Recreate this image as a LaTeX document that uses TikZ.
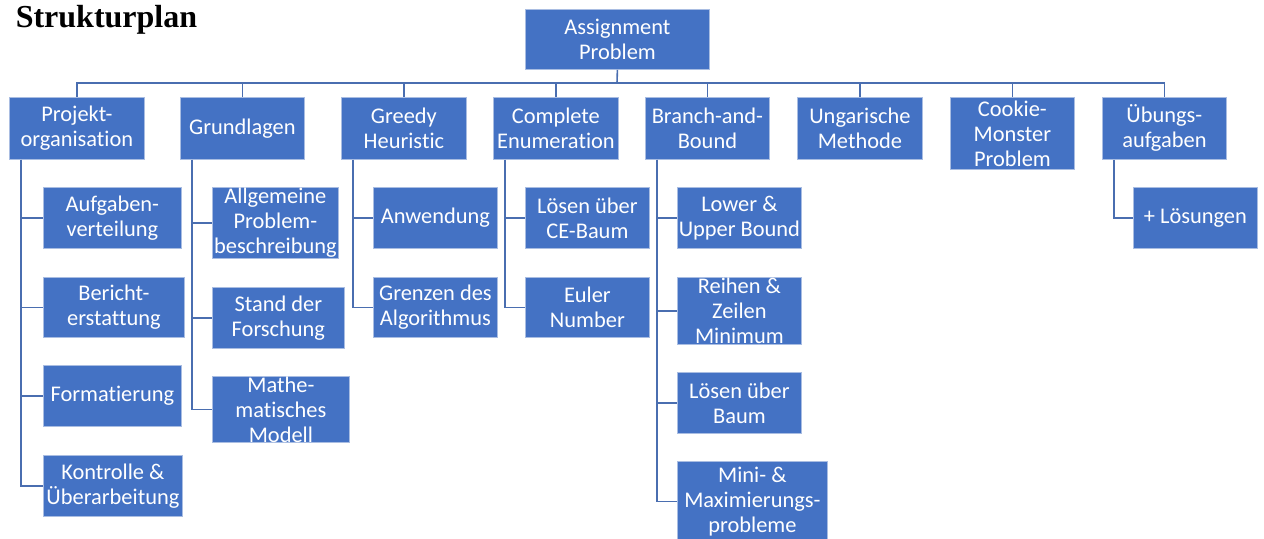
\documentclass[tikz,border=0pt]{standalone}
\usepackage{fontspec}
\setmainfont{Liberation Serif}
\newfontfamily\boxfont[Ligatures=NoCommon]{Carlito}
\usepackage{xcolor}
\definecolor{boxblue}{HTML}{4472C4}
\definecolor{boxedge}{HTML}{A9BDE2}
\definecolor{linkblue}{HTML}{4A6EB0}

\begin{document}
\begin{tikzpicture}[x=0.5pt,y=-0.5pt,line width=0.8pt,
    box/.style={rectangle,fill=boxblue,draw=boxedge,line width=0.4pt,anchor=north west,inner sep=0pt,align=center,text=white,font=\boxfont\fontsize{11.2}{12.5}\selectfont},
    link/.style={draw=linkblue,line width=0.8pt}]

                \useasboundingbox (0,0) rectangle (1264,538);

                \node[anchor=base west,inner sep=0pt,font=\bfseries\fontsize{16}{19}\selectfont] (title) at (15,27) {Strukturplan};

                \node[box, minimum width=92pt, minimum height=30pt] (root) at (525,9) {Assignment\\Problem};

                % erste Ebene
                \node[box, minimum width=67.5pt, minimum height=31pt] (proj) at (9,97) {Projekt-\\organisation};
                \node[box, minimum width=62pt, minimum height=31pt] (grund) at (180,97) {Grundlagen};
                \node[box, minimum width=62.5pt, minimum height=31pt] (greedy) at (341,97) {Greedy\\Heuristic};
                \node[box, minimum width=62.5pt, minimum height=31pt] (ce) at (493,97) {Complete\\Enumeration};
                \node[box, minimum width=62pt, minimum height=31pt] (bb) at (645,97) {Branch-and-\\Bound};
                \node[box, minimum width=62.5pt, minimum height=31pt] (ung) at (797,97) {Ungarische\\Methode};
                \node[box, minimum width=62pt, minimum height=36pt] (cookie) at (950,97) {Cookie-\\Monster\\Problem};
                \node[box, minimum width=62pt, minimum height=31pt] (ueb) at (1102,97) {Übungs-\\aufgaben};

                % zweite Ebene
                \node[box, minimum width=69pt, minimum height=30.5pt] (aufg) at (43,187) {Aufgaben-\\verteilung};
                \node[box, minimum width=70.5pt, minimum height=30pt] (bericht) at (43,277) {Bericht-\\erstattung};
                \node[box, minimum width=69pt, minimum height=30.5pt] (format) at (43,365) {Formatierung};
                \node[box, minimum width=69.5pt, minimum height=30.5pt] (kontr) at (43,455) {Kontrolle \&\\Überarbeitung};

                \node[box, minimum width=63pt, minimum height=35.5pt] (allg) at (212,187) {Allgemeine\\Problem-\\beschreibung};
                \node[box, minimum width=66pt, minimum height=30.5pt] (stand) at (212,287) {Stand der\\Forschung};
                \node[box, minimum width=68.5pt, minimum height=33pt] (mathe) at (212,376) {Mathe-\\matisches\\Modell};

                \node[box, minimum width=62pt, minimum height=30.5pt] (anw) at (373,187) {Anwendung};
                \node[box, minimum width=62pt, minimum height=30pt] (grenz) at (373,277) {Grenzen des\\Algorithmus};

                \node[box, minimum width=62pt, minimum height=30.5pt] (cebaum) at (525,187) {Lösen über\\CE-Baum};
                \node[box, minimum width=62pt, minimum height=30pt] (euler) at (525,277) {Euler\\Number};

                \node[box, minimum width=62pt, minimum height=30.5pt] (lub) at (677,187) {Lower \&\\Upper Bound};
                \node[box, minimum width=62pt, minimum height=33.5pt] (reihen) at (677,277) {Reihen \&\\Zeilen\\Minimum};
                \node[box, minimum width=62pt, minimum height=30.5pt] (baum) at (677,372) {Lösen über\\Baum};
                \node[box, minimum width=75pt, minimum height=40pt] (minmax) at (677,461) {Mini- \&\\Maximierungs-\\probleme};

                \node[box, minimum width=62pt, minimum height=30.5pt] (loes) at (1133,187) {+ Lösungen};

                \coordinate (bus) at (617,83);

                \draw[link] (root.south) -- (bus);
                \foreach \k in {proj,grund,greedy,ce,bb,ung,cookie,ueb}
                    \draw[link] (bus) -| (\k.north);

                \foreach \k in {aufg,bericht,format,kontr}
                    \draw[link] ([xshift=6pt]proj.south west) |- (\k.west);
                \foreach \k in {allg,stand,mathe}
                    \draw[link] ([xshift=6pt]grund.south west) |- (\k.west);
                \foreach \k in {anw,grenz}
                    \draw[link] ([xshift=6pt]greedy.south west) |- (\k.west);
                \foreach \k in {cebaum,euler}
                    \draw[link] ([xshift=6pt]ce.south west) |- (\k.west);
                \foreach \k in {lub,reihen,baum,minmax}
                    \draw[link] ([xshift=6pt]bb.south west) |- (\k.west);
                \draw[link] ([xshift=6pt]ueb.south west) |- (loes.west);
            \end{tikzpicture}
\end{document}
